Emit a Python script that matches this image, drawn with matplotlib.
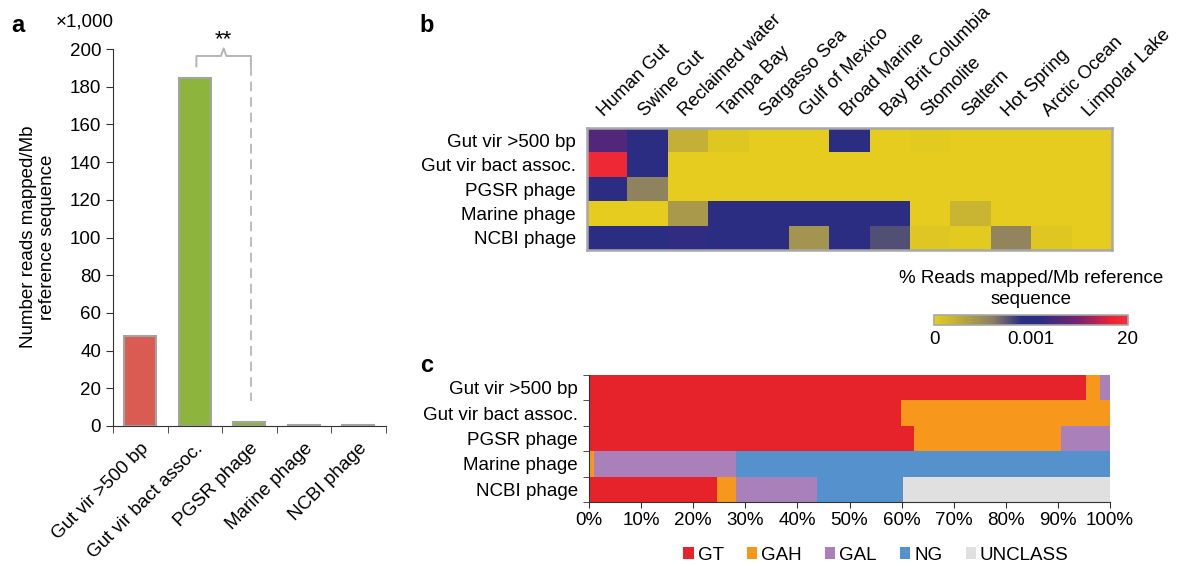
import numpy as np
import matplotlib
matplotlib.use('Agg')
from matplotlib import pyplot as plt
from matplotlib.colors import LinearSegmentedColormap
from matplotlib.patches import Patch
from matplotlib.transforms import ScaledTranslation

plt.rcParams['font.family'] = ['Liberation Sans', 'DejaVu Sans']
plt.rcParams['font.size'] = 13

# ---- data ----
categories = ['Gut vir >500 bp', 'Gut vir bact assoc.', 'PGSR phage', 'Marine phage', 'NCBI phage']

# panel a: reads mapped / Mb (x1,000)
reads_k = [47.8, 184.8, 2.3, 0.3, 0.3]
bar_colors = ['#D95B52', '#8DB53D', '#8DB53D', '#8DB53D', '#8DB53D']

# panel b: heatmap, position on the colour scale (0 -> "0", 0.5 -> "0.001", 1 -> "20")
sites = ['Human Gut', 'Swine Gut', 'Reclaimed water', 'Tampa Bay', 'Sargasso Sea',
         'Gulf of Mexico', 'Broad Marine', 'Bay Brit Columbia', 'Stomolite', 'Saltern',
         'Hot Spring', 'Arctic Ocean', 'Limpolar Lake']
heat_gut500 = [0.65, 0.50, 0.11, 0.02, 0, 0, 0.50, 0, 0.01, 0, 0, 0, 0]
heat_bact = [0.95, 0.50, 0, 0, 0, 0, 0, 0, 0, 0, 0, 0, 0]
heat_pgsr = [0.50, 0.29, 0, 0, 0, 0, 0, 0, 0, 0, 0, 0, 0]
heat_marine = [0, 0, 0.20, 0.50, 0.50, 0.50, 0.50, 0.50, 0, 0.09, 0, 0, 0]
heat_ncbi = [0.50, 0.50, 0.56, 0.50, 0.50, 0.22, 0.50, 0.39, 0.025, 0.01, 0.28, 0.02, 0]
cbar_ticks = [0, 0.5, 1]
cbar_labels = ['0', '0.001', '20']

# panel c: composition (%)
groups = ['GT', 'GAH', 'GAL', 'NG', 'UNCLASS']
gt = [95.4, 59.9, 62.4, 0, 24.5]
gah = [2.7, 40.1, 28.2, 1.0, 3.8]
gal = [1.9, 0, 9.4, 27.3, 15.4]
ng = [0, 0, 0, 71.7, 16.6]
unclass = [0, 0, 0, 0, 39.7]
group_colors = ['#E6232B', '#F7981D', '#A980BA', '#5491CD', '#E0E0E0']

W, H = 1183, 566
fig = plt.figure(figsize=(W / 100, H / 100), dpi=100)


def box(l, t, r, b):
    return [l / W, 1 - b / H, (r - l) / W, (b - t) / H]


def px(x, y):
    return x / W, 1 - y / H


axis_col = '#333333'

# ---- panel a ----
axA = fig.add_axes(box(113, 49, 385.5, 426))
xa = np.arange(len(categories))
axA.bar(xa, reads_k, width=0.58, color=bar_colors, edgecolor='#A3A3A3', linewidth=1.5)
axA.set_xlim(-0.5, len(categories) - 0.5)
axA.set_ylim(0, 200)
axA.set_yticks(range(0, 201, 20))
axA.set_xticks(xa)
axA.set_xticks(np.arange(-0.5, len(categories)), minor=True)
axA.set_xticklabels(categories, rotation=45, ha='right', rotation_mode='anchor', fontsize=13.5)
shift = ScaledTranslation(0.08, 0, fig.dpi_scale_trans)
for lab in axA.get_xticklabels():
    lab.set_transform(lab.get_transform() + shift)
axA.tick_params(axis='x', which='major', length=0, pad=10)
axA.tick_params(axis='x', which='minor', length=5, color=axis_col)
axA.tick_params(axis='y', length=5, color=axis_col, labelsize=13.5)
for s in ['top', 'right']:
    axA.spines[s].set_visible(False)
for s in ['left', 'bottom']:
    axA.spines[s].set_color(axis_col)

# significance bracket between bars 2 and 3
xl, xr = xa[1] + 0.03, xa[2] + 0.03
yb = max(reads_k) + 6
yt = yb + 5.5
yp = yt + 4
xc = (xl + xr) / 2
axA.plot([xl, xl, xc - 0.05, xc, xc + 0.05, xr, xr],
         [yb, yt, yt, yp, yt, yt, yb], color='#B5B5B5', lw=1.4, clip_on=False)
axA.plot([xr, xr], [yb, 13.3], color='#BDBDBD', lw=1.4, linestyle=(0, (5, 3)), clip_on=False)
axA.text(xc, yp + 4.5, '**', ha='center', va='center', fontsize=16, clip_on=False)

fig.text(*px(38, 237), 'Number reads mapped/Mb\nreference sequence', rotation=90,
         ha='center', va='center', fontsize=13.5, linespacing=1.1)
fig.text(*px(85, 22), '×1,000', ha='center', va='center', fontsize=13.5)
fig.text(*px(18, 26), 'a', ha='center', va='center', fontsize=17, fontweight='bold')
fig.text(*px(427, 25), 'b', ha='center', va='center', fontsize=17, fontweight='bold')
fig.text(*px(427, 365), 'c', ha='center', va='center', fontsize=17, fontweight='bold')

# ---- panel b ----
cmap = LinearSegmentedColormap.from_list('reads', [
    (0.0, '#E5CC1E'), (0.3, '#8C8062'), (0.45, '#2B2D82'), (0.55, '#2B2D82'),
    (0.75, '#7A2272'), (0.92, '#EE2330'), (1.0, '#F0303A')])
heat = np.array([heat_gut500, heat_bact, heat_pgsr, heat_marine, heat_ncbi])
axB = fig.add_axes(box(587, 128, 1112, 250))
im = axB.imshow(heat, cmap=cmap, vmin=0, vmax=1, aspect='auto', interpolation='nearest')
axB.xaxis.tick_top()
axB.set_xticks(range(len(sites)))
axB.set_xticklabels(sites, rotation=45, ha='left', va='bottom', rotation_mode='anchor', fontsize=13.2)
axB.set_yticks(range(len(categories)))
axB.set_yticklabels(categories, fontsize=13.5)
axB.tick_params(axis='both', length=0)
axB.tick_params(axis='x', pad=6)
axB.tick_params(axis='y', pad=8)
for s in axB.spines.values():
    s.set_color('#A8A8A8')
    s.set_linewidth(1.8)

cax = fig.add_axes(box(934, 315, 1128, 325))
cb = fig.colorbar(im, cax=cax, orientation='horizontal', ticks=cbar_ticks)
cb.set_ticklabels(cbar_labels)
cb.ax.tick_params(length=0, pad=4, labelsize=13.5)
cb.outline.set_edgecolor('#A8A8A8')
cb.outline.set_linewidth(1.2)
fig.text(*px(1031, 289), '% Reads mapped/Mb reference\nsequence', ha='center', va='center',
         fontsize=13.5, linespacing=1.3)

# ---- panel c ----
axC = fig.add_axes(box(589, 375, 1110, 502))
yc = np.arange(len(categories))
left = np.zeros(len(categories))
for vals, col in zip([gt, gah, gal, ng, unclass], group_colors):
    axC.barh(yc, vals, left=left, height=1.0, color=col, linewidth=0)
    left += np.array(vals)
axC.set_xlim(0, 100)
axC.set_ylim(len(categories) - 0.5, -0.5)
axC.set_xticks(range(0, 101, 10))
axC.set_xticklabels([f'{v}%' for v in range(0, 101, 10)], fontsize=13.5)
axC.set_yticks(yc)
axC.set_yticklabels(categories, fontsize=13.5)
axC.set_yticks(np.arange(-0.5, len(categories)), minor=True)
axC.tick_params(axis='y', which='major', length=0, pad=8)
axC.tick_params(axis='y', which='minor', length=4, color=axis_col)
axC.tick_params(axis='x', length=4, color=axis_col)
for s in ['top', 'right']:
    axC.spines[s].set_visible(False)
for s in ['left', 'bottom']:
    axC.spines[s].set_color(axis_col)

handles = [Patch(facecolor=c, edgecolor='none') for c in group_colors]
fig.legend(handles, groups, loc='center', bbox_to_anchor=px(876, 555), ncol=5, frameon=False,
           handlelength=0.55, handleheight=0.55, handletextpad=0.2, columnspacing=1.25,
           fontsize=13.5, borderpad=0)

fig.savefig('out.png', dpi=100)
